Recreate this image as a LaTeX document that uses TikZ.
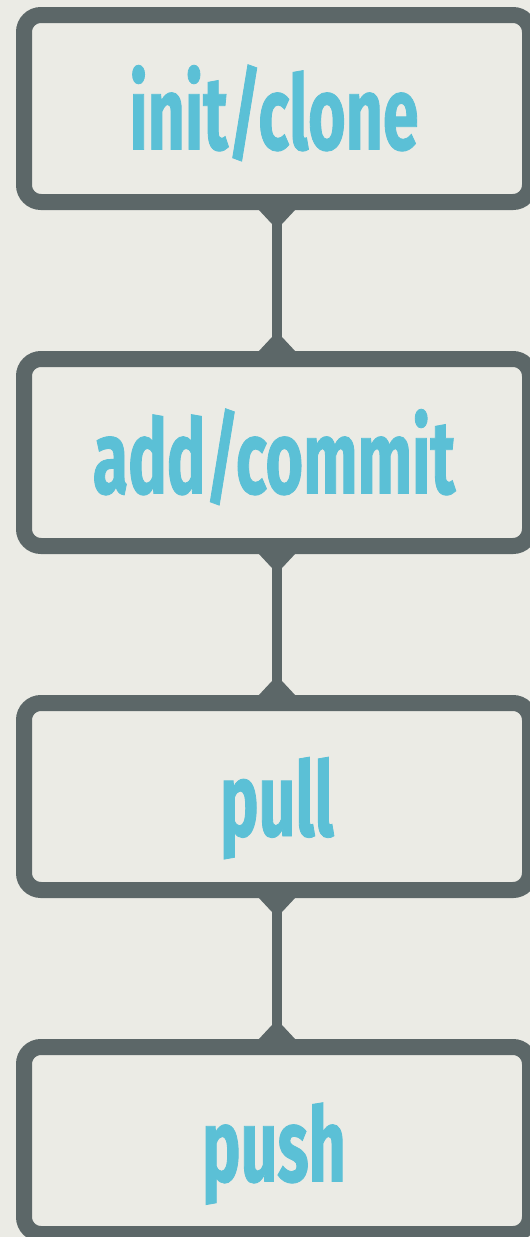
\documentclass[tikz,border=0pt]{standalone}
\usepackage{fontspec}
\newfontfamily\lblfont[FakeStretch=0.62, FakeBold=0.8]{Fira Sans}
\definecolor{bgc}{RGB}{235,235,229}
\definecolor{edgec}{RGB}{92,103,104}
\definecolor{txtc}{RGB}{91,192,214}
\tikzset{
  stepbox/.style={draw=edgec, line width=16pt, rounded corners=17pt, fill=bgc,
    minimum width=506pt, minimum height=187pt, inner sep=0pt},
  steplabel/.style={anchor=base, text=txtc, font=\lblfont\bfseries\fontsize{104}{104}\selectfont, inner sep=0pt},
  conn/.style={draw=edgec, line width=10pt},
  flare/.style={fill=edgec}
}
\begin{document}
\begin{tikzpicture}[x=1pt, y=-1pt]
\fill[bgc] (0,0) rectangle (530,1237);
\useasboundingbox (0,0) rectangle (530,1237);
\clip (0,0) rectangle (530,1237);
\node[stepbox] (b1) at (277,108.5) {};
\node[stepbox] (b2) at (277,452.5) {};
\node[stepbox] (b3) at (277,796.5) {};
\node[stepbox] (b4) at (277,1140.5) {};
\node[steplabel] (t1) at (274,149.5) {init/clone};
\node[steplabel] (t2) at (274,493.5) {add/commit};
\node[steplabel] (t3) at (277,836) {pull};
\node[steplabel] (t4) at (274,1181.5) {push};
\foreach \a/\b in {b1/b2, b2/b3, b3/b4}{
  \draw[conn] (\a.south) -- (\b.north);
  \fill[flare] ([xshift=-19pt, yshift=1pt]\a.south) -- ([xshift=19pt, yshift=1pt]\a.south)
     -- ([xshift=5pt, yshift=-14pt]\a.south) -- ([xshift=-5pt, yshift=-14pt]\a.south) -- cycle;
  \fill[flare] ([xshift=-19pt, yshift=-1pt]\b.north) -- ([xshift=19pt, yshift=-1pt]\b.north)
     -- ([xshift=5pt, yshift=14pt]\b.north) -- ([xshift=-5pt, yshift=14pt]\b.north) -- cycle;
}
\end{tikzpicture}
\end{document}
